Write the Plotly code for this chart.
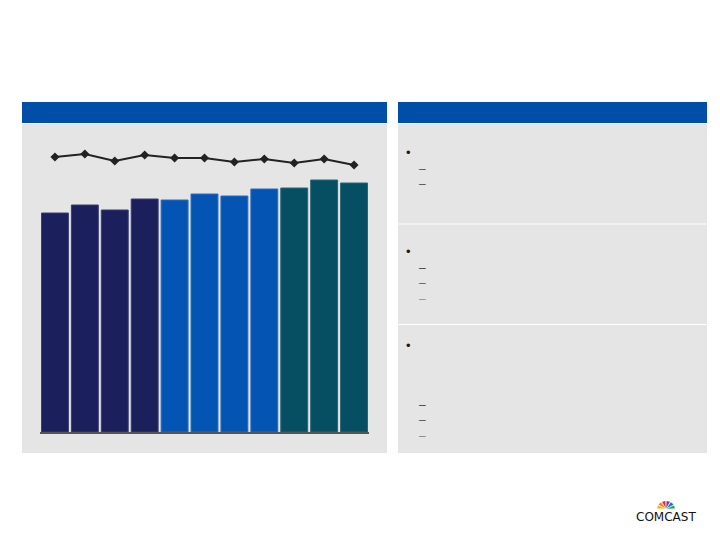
import math
import plotly.graph_objects as go

# ---- data ----
periods = ["P1", "P2", "P3", "P4", "P5", "P6", "P7", "P8", "P9", "P10", "P11"]
bar_values = [21.9, 22.7, 22.2, 23.3, 23.2, 23.8, 23.6, 24.3, 24.4, 25.2, 24.9]
line_values = [27.5, 27.8, 27.1, 27.7, 27.4, 27.4, 27.0, 27.3, 26.9, 27.3, 26.7]
bar_colors = ["#1B1F5C"] * 4 + ["#0455B3"] * 4 + ["#064F63"] * 3
bar_edges = ["#3A3E74"] * 4 + ["#2A6CC0"] * 4 + ["#2A6676"] * 3

W, H = 720, 540
OFF = 8  # page body margin offset


def px(x):
    return (x - OFF) / W


def py(y):
    return 1 - (y - OFF) / H


fig = go.Figure()
fig.add_trace(go.Bar(
    x=periods, y=bar_values,
    marker=dict(color=bar_colors, line=dict(color=bar_edges, width=1)),
    hoverinfo="skip", showlegend=False,
))
fig.add_trace(go.Scatter(
    x=periods, y=line_values, mode="lines+markers",
    line=dict(color="#222222", width=2),
    marker=dict(symbol="diamond", size=7, color="#222222"),
    hoverinfo="skip", showlegend=False,
))

shapes = []


def rect(x0, y0, x1, y1, color):
    shapes.append(dict(type="rect", xref="paper", yref="paper",
                       x0=px(x0), x1=px(x1), y0=py(y1), y1=py(y0),
                       fillcolor=color, line=dict(width=0), layer="below"))


HEAD = "#004EA8"
GRAY = "#E5E5E5"
# left panel
rect(22, 102, 387, 123, HEAD)
rect(22, 124, 387, 453, GRAY)
# right panels
rect(398, 102, 707, 123, HEAD)
rect(398, 124, 707, 223.5, GRAY)
rect(398, 224.5, 707, 324, GRAY)
rect(398, 325, 707, 453, GRAY)

annotations = []


def txt(x, y, s, size=12, color="#222222"):
    annotations.append(dict(xref="paper", yref="paper", x=px(x), y=py(y),
                            text=s, showarrow=False, xanchor="center",
                            yanchor="middle",
                            font=dict(size=size, color=color,
                                      family="Liberation Sans, Arial")))


# bullets & dashes
for y in [152.3, 251.7, 345.3]:
    txt(408, y, "•", size=13, color="#1a1a1a")
for y, c in [(169, "#555"), (184, "#555"), (268.3, "#444"), (283.3, "#666"),
             (299, "#999"), (405, "#444"), (420.3, "#555"), (435.7, "#888")]:
    txt(422.5, y, "–", size=12, color=c)

# logo
annotations.append(dict(xref="paper", yref="paper", x=px(666), y=py(517),
                        text="COMCAST", showarrow=False, xanchor="center",
                        yanchor="middle",
                        font=dict(size=12, color="#111111",
                                  family="DejaVu Sans, Arial")))
feathers = ["#F5B21B", "#F0802A", "#E0312F", "#7E3C96", "#1375C0", "#2BA24C"]
cx, cy = 666, 509
for i, col in enumerate(feathers):
    a = math.radians(165 - i * 30)
    pts = []
    for t in range(-5, 6):
        ang = a + math.radians(t * 2.6)
        r = 9
        pts.append((cx + r * math.cos(ang), cy - r * math.sin(ang) * 0.9))
    path = f"M {px(cx)} {py(cy)} " + " ".join(
        f"L {px(x)} {py(y)}" for x, y in pts) + " Z"
    shapes.append(dict(type="path", xref="paper", yref="paper", path=path,
                       fillcolor=col, line=dict(width=0.4, color="white"),
                       layer="above"))

fig.update_layout(
    width=W, height=H, autosize=False,
    margin=dict(l=0, r=0, t=0, b=0),
    paper_bgcolor="white", plot_bgcolor="rgba(0,0,0,0)",
    bargap=0.1,
    shapes=shapes, annotations=annotations,
    xaxis=dict(domain=[px(40), px(369)], range=[-0.5, 10.5],
               showticklabels=False, ticks="", showgrid=False, zeroline=False,
               showline=True, linecolor="#555555", linewidth=1.5),
    yaxis=dict(domain=[py(432), py(140)], range=[0, 29.2],
               showticklabels=False, ticks="", showgrid=False, zeroline=False,
               showline=False),
)

fig.write_html("out.html")
